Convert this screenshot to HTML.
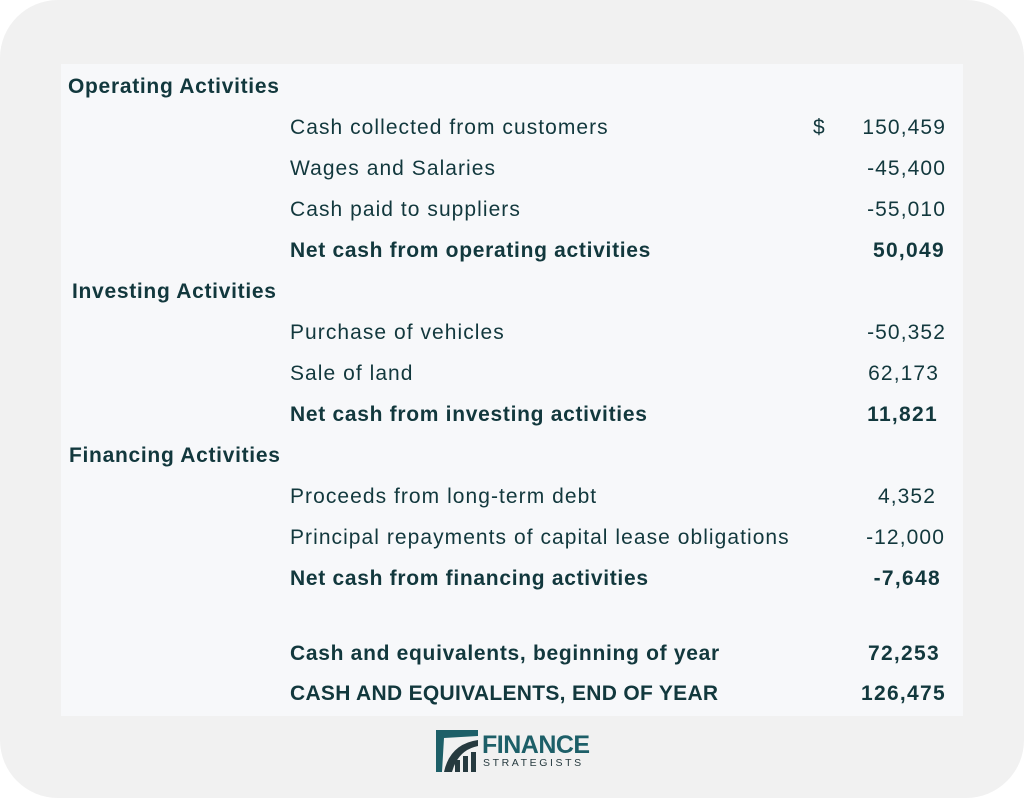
<!DOCTYPE html>
<html><head><meta charset="utf-8"><style>
body{margin:0;width:1024px;height:798px;background:#fff;position:relative;overflow:hidden;font-family:"Liberation Sans",sans-serif;color:#12383d}
#card{position:absolute;left:0;top:0;width:1024px;height:798px;background:#f1f1f1;border-radius:58px}
#panel{position:absolute;left:61px;top:64px;width:902px;height:652px;background:#f7f8fa}
.t{position:absolute;font-size:21px;line-height:24px;white-space:nowrap;transform:translateY(-11px);letter-spacing:1.05px}
.b{font-weight:bold;letter-spacing:0.7px}
.r{text-align:right;letter-spacing:1.1px}
.b.r{letter-spacing:1.3px}
</style></head><body>
<div id="card"></div>
<div id="panel"></div>
<div class="t b" style="left:68px;top:86px">Operating Activities</div>
<div class="t" style="left:290px;top:127px">Cash collected from customers</div>
<div class="t" style="left:813px;top:127px">$</div>
<div class="t r" style="right:78px;top:127px">150,459</div>
<div class="t" style="left:290px;top:168px">Wages and Salaries</div>
<div class="t r" style="right:78px;top:168px">-45,400</div>
<div class="t" style="left:290px;top:209px">Cash paid to suppliers</div>
<div class="t r" style="right:78px;top:209px">-55,010</div>
<div class="t b" style="left:290px;top:250px">Net cash from operating activities</div>
<div class="t b r" style="right:79px;top:250px">50,049</div>
<div class="t b" style="left:72px;top:291px">Investing Activities</div>
<div class="t" style="left:290px;top:332px">Purchase of vehicles</div>
<div class="t r" style="right:78px;top:332px">-50,352</div>
<div class="t" style="left:290px;top:373px">Sale of land</div>
<div class="t r" style="right:85px;top:373px">62,173</div>
<div class="t b" style="left:290px;top:414px">Net cash from investing activities</div>
<div class="t b r" style="right:86px;top:414px">11,821</div>
<div class="t b" style="left:69px;top:455px">Financing Activities</div>
<div class="t" style="left:290px;top:496px">Proceeds from long-term debt</div>
<div class="t r" style="right:88px;top:496px">4,352</div>
<div class="t" style="left:290px;top:537px">Principal repayments of capital lease obligations</div>
<div class="t r" style="right:79px;top:537px">-12,000</div>
<div class="t b" style="left:290px;top:578px">Net cash from financing activities</div>
<div class="t b r" style="right:83px;top:578px">-7,648</div>
<div class="t b" style="left:290px;top:653px">Cash and equivalents, beginning of year</div>
<div class="t b r" style="right:84px;top:653px">72,253</div>
<div class="t b" style="left:290px;top:693px;letter-spacing:0.3px">CASH AND EQUIVALENTS, END OF YEAR</div>
<div class="t b r" style="right:78px;top:693px">126,475</div>
<div style="position:absolute;left:436px;top:730px;width:160px;height:42px">
<svg width="42" height="42" viewBox="0 0 42 42" style="position:absolute;left:0;top:0">
<polygon points="0,0 42,0 42,6 8,8 6,42 0,42" fill="#1d5f68"/>
<path d="M8,42 Q14,14 42,10 L42,16 Q22,20 16,42 Z" fill="#263a3f"/>
<rect x="19" y="30" width="5" height="12" fill="#263a3f"/>
<rect x="27" y="26" width="5" height="16" fill="#263a3f"/>
<rect x="35" y="22" width="5" height="20" fill="#263a3f"/>
</svg>
<div style="position:absolute;left:46px;top:1px;font-size:25px;font-weight:bold;color:#1d5f68;letter-spacing:-0.5px">FINANCE</div>
<div style="position:absolute;left:47px;top:27px;font-size:10.5px;color:#263a3f;letter-spacing:2.6px">STRATEGISTS</div>
</div>
</body></html>
